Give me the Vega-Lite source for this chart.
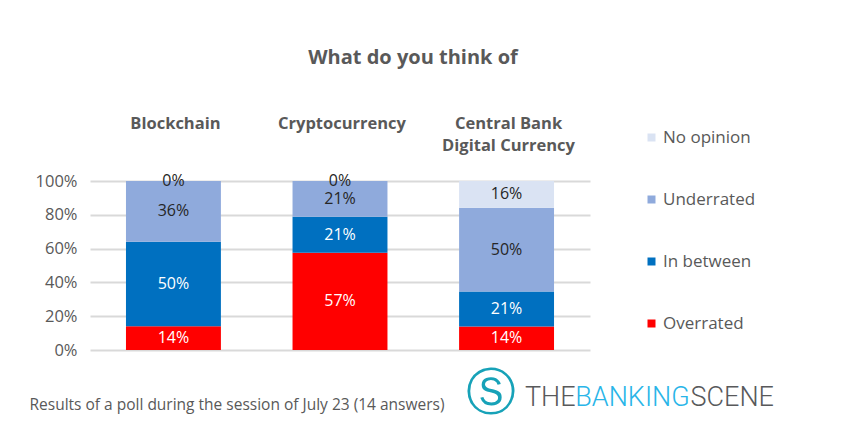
{
  "$schema": "https://vega.github.io/schema/vega-lite/v6.json",
  "width": 500,
  "height": 169,
  "autosize": {"type": "none"},
  "padding": {"left": 90, "top": 181, "right": 276, "bottom": 86},
  "background": "white",
  "title": {
    "text": "What do you think of",
    "font": "Open Sans",
    "fontSize": 20,
    "fontWeight": "bold",
    "color": "#595959",
    "anchor": "middle",
    "frame": "group",
    "dx": 73,
    "dy": -47,
    "offset": 0
  },
  "data": {
    "values": [
      {"cat": "Blockchain", "opinion": "Overrated", "pct": 0.14},
      {"cat": "Blockchain", "opinion": "In between", "pct": 0.50},
      {"cat": "Blockchain", "opinion": "Underrated", "pct": 0.36},
      {"cat": "Blockchain", "opinion": "No opinion", "pct": 0.0},
      {"cat": "Cryptocurrency", "opinion": "Overrated", "pct": 0.57},
      {"cat": "Cryptocurrency", "opinion": "In between", "pct": 0.21},
      {"cat": "Cryptocurrency", "opinion": "Underrated", "pct": 0.21},
      {"cat": "Cryptocurrency", "opinion": "No opinion", "pct": 0.0},
      {"cat": "Central Bank Digital Currency", "opinion": "Overrated", "pct": 0.14},
      {"cat": "Central Bank Digital Currency", "opinion": "In between", "pct": 0.21},
      {"cat": "Central Bank Digital Currency", "opinion": "Underrated", "pct": 0.50},
      {"cat": "Central Bank Digital Currency", "opinion": "No opinion", "pct": 0.16}
    ]
  },
  "transform": [
    {"calculate": "indexof(['Overrated','In between','Underrated','No opinion'], datum.opinion)", "as": "ord"},
    {"stack": "pct", "groupby": ["cat"], "sort": [{"field": "ord", "order": "ascending"}], "offset": "normalize", "as": ["y0", "y1"]},
    {"calculate": "(datum.y0 + datum.y1) / 2", "as": "ymid"}
  ],
  "layer": [
    {
      "mark": {"type": "bar"},
      "encoding": {
        "x": {
          "field": "cat", "type": "nominal", "sort": null,
          "scale": {"paddingInner": 0.43, "paddingOuter": 0.216},
          "axis": {
            "orient": "top", "labelAngle": 0, "ticks": false, "domain": false, "grid": false,
            "labelFont": "Open Sans", "labelFontWeight": "bold", "labelFontSize": 16.5, "labelColor": "#595959",
            "labelBaseline": "top", "labelPadding": 66, "labelLineHeight": 22, "labelLimit": 0, "labelOffset": 2,
            "labelExpr": "datum.label == 'Central Bank Digital Currency' ? ['Central Bank', 'Digital Currency'] : datum.label",
            "title": "Ⓢ", "titleX": 400, "titleY": 212, "titleAlign": "center", "titleBaseline": "middle", "titleAngle": 0,
            "titleFont": "DejaVu Sans", "titleFontSize": 50, "titleFontWeight": "normal", "titleColor": "#17a2b8"
          }
        },
        "y": {
          "field": "y0", "type": "quantitative",
          "scale": {"domain": [0, 1], "nice": false},
          "axis": {
            "orient": "left", "values": [0, 0.2, 0.4, 0.6, 0.8, 1], "format": ".0%",
            "grid": true, "gridColor": "#d9d9d9", "gridWidth": 2, "ticks": false, "domain": false,
            "labelFont": "Open Sans", "labelFontSize": 16.5, "labelColor": "#595959", "labelPadding": 13,
            "title": "Results of a poll during the session of July 23 (14 answers)",
            "titleX": -61, "titleY": 223, "titleAngle": 0, "titleAlign": "left", "titleBaseline": "middle",
            "titleFont": "Open Sans", "titleFontSize": 15.5, "titleFontWeight": "normal", "titleColor": "#595959"
          }
        },
        "y2": {"field": "y1"},
        "color": {
          "field": "opinion", "type": "nominal",
          "scale": {
            "domain": ["No opinion", "Underrated", "In between", "Overrated"],
            "range": ["#dae3f3", "#8faadc", "#0070c0", "#ff0000"]
          },
          "legend": {
            "title": null, "orient": "none", "legendX": 553, "legendY": -52,
            "symbolType": "square", "symbolSize": 64, "symbolStrokeWidth": 0,
            "labelFont": "Open Sans", "labelFontSize": 17, "labelColor": "#595959",
            "rowPadding": 44, "labelOffset": 3
          }
        }
      }
    },
    {
      "mark": {"type": "text", "font": "Open Sans", "fontSize": 16},
      "encoding": {
        "x": {"field": "cat", "type": "nominal", "sort": null, "axis": null},
        "y": {"field": "ymid", "type": "quantitative", "axis": null},
        "text": {"field": "pct", "type": "quantitative", "format": ".0%"},
        "color": {
          "condition": {"test": "datum.opinion == 'Overrated' || datum.opinion == 'In between'", "value": "#ffffff"},
          "value": "#262626"
        }
      }
    },
    {
      "mark": {"type": "point", "opacity": 0},
      "encoding": {
        "x": {
          "field": "cat", "type": "nominal", "sort": null,
          "axis": {
            "orient": "bottom", "labels": false, "ticks": false, "domain": false, "grid": false,
            "title": "THE", "titleX": 485, "titleY": 55, "titleAlign": "right", "titleBaseline": "alphabetic", "titleAngle": 0,
            "titleFont": "Roboto", "titleFontSize": 27, "titleFontWeight": 300, "titleColor": "#58595b"
          }
        },
        "y": {
          "field": "y1", "type": "quantitative",
          "axis": {
            "orient": "right", "labels": false, "ticks": false, "domain": false, "grid": false,
            "title": "BANKING", "titleX": 42, "titleY": 224, "titleAlign": "center", "titleBaseline": "alphabetic", "titleAngle": 0,
            "titleFont": "Roboto", "titleFontSize": 27, "titleFontWeight": 300, "titleColor": "#29b5e8"
          }
        }
      }
    },
    {
      "mark": {"type": "point", "opacity": 0},
      "encoding": {
        "x": {
          "field": "cat", "type": "nominal", "sort": null,
          "axis": {
            "orient": "bottom", "labels": false, "ticks": false, "domain": false, "grid": false,
            "title": "SCENE", "titleX": 600, "titleY": 55, "titleAlign": "left", "titleBaseline": "alphabetic", "titleAngle": 0,
            "titleFont": "Roboto", "titleFontSize": 27, "titleFontWeight": 300, "titleColor": "#58595b"
          }
        },
        "y": {"field": "y1", "type": "quantitative", "axis": null}
      }
    }
  ],
  "resolve": {"axis": {"x": "independent", "y": "independent"}},
  "config": {"view": {"stroke": null}}
}
